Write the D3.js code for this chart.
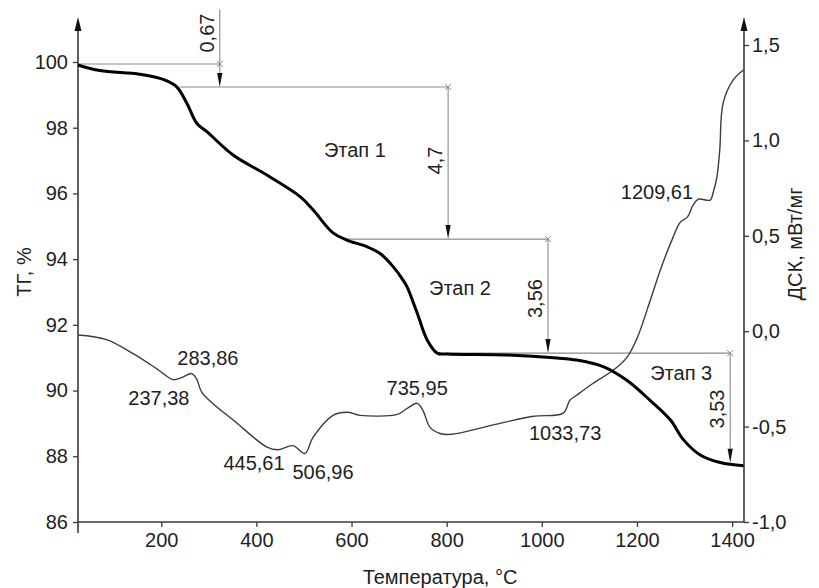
<!DOCTYPE html>
<html>
<head>
<meta charset="utf-8">
<script src="https://cdn.jsdelivr.net/npm/d3@7"></script>
<style>
  html, body { margin: 0; padding: 0; background: #fff; }
  svg { display: block; font-family: "Liberation Sans", Arial, sans-serif; }
</style>
</head>
<body>
<svg id="chart" width="819" height="588"></svg>
<script>
// ---- Data ----
const tgTemp = [25, 71, 155, 204, 232, 254, 275, 296, 351, 422, 492, 519, 561, 590, 632, 660, 687, 708, 717, 738, 759, 780, 801, 927, 1032, 1073, 1129, 1178, 1227, 1270, 1298, 1333, 1375, 1424];
const tgValue = [99.91, 99.74, 99.63, 99.47, 99.25, 98.74, 98.13, 97.88, 97.17, 96.56, 95.90, 95.50, 94.80, 94.58, 94.38, 94.17, 93.78, 93.37, 93.15, 92.36, 91.54, 91.14, 91.11, 91.08, 90.99, 90.93, 90.73, 90.32, 89.71, 89.11, 88.50, 88.04, 87.81, 87.71];

const dscTemp = [25, 85, 141, 190, 225, 243, 264, 274, 285, 309, 352, 422, 446, 477, 502, 519, 561, 591, 618, 696, 717, 738, 750, 765, 786, 807, 912, 982, 1045, 1059, 1073, 1108, 1150, 1179, 1201, 1228, 1249, 1276, 1291, 1306, 1318, 1329, 1354, 1360, 1368, 1374, 1381, 1402, 1424];
const dscValue = [-0.02, -0.044, -0.118, -0.196, -0.254, -0.243, -0.222, -0.249, -0.319, -0.380, -0.467, -0.607, -0.621, -0.600, -0.641, -0.557, -0.441, -0.425, -0.441, -0.436, -0.405, -0.378, -0.415, -0.504, -0.536, -0.541, -0.483, -0.446, -0.429, -0.362, -0.336, -0.273, -0.205, -0.137, -0.032, 0.162, 0.320, 0.493, 0.571, 0.598, 0.661, 0.692, 0.687, 0.724, 0.807, 0.949, 1.194, 1.316, 1.369];

const xTicks = [200, 400, 600, 800, 1000, 1200, 1400];
const tgTicks = [86, 88, 90, 92, 94, 96, 98, 100];
const dscTicks = [-1.0, -0.5, 0.0, 0.5, 1.0, 1.5];

// Peak labels on the DSC curve
const peakLabels = ["283,86", "237,38", "445,61", "506,96", "735,95", "1033,73", "1209,61"];
const peakLabelT = [298, 195, 395, 540, 738, 1049, 1242];
const peakLabelV = [-0.142, -0.352, -0.693, -0.740, -0.300, -0.536, 0.729];

// Stage labels on the TG scale
const stageLabels = ["Этап 1", "Этап 2", "Этап 3"];
const stageLabelT = [607, 828, 1293];
const stageLabelV = [97.32, 93.12, 90.54];

// Mass-loss dimension lines (TG levels)
const stepLevels = [99.94, 99.24, 94.61, 91.14, 87.80];
const stepLineStartT = [25, 239, 586, 800];
const stepMarkT = [323, 803, 1013, 1396];
const stepVertTop = [101.6, 99.24, 94.61, 91.14];
const lossLabels = ["0,67", "4,7", "3,56", "3,53"];
const lossLabelV = [100.88, 97.0, 92.8, 89.44];

// ---- Scales ----
const svg = d3.select("#chart");
const x = d3.scaleLinear().domain([25, 1425]).range([78, 744]);
const yL = d3.scaleLinear().domain([86, 100]).range([522, 62]);
const yR = d3.scaleLinear().domain([-1, 1.5]).range([522, 45]);

const axisColor = "#3a3a3a";
const textColor = "#1e1e1e";
const fmt = v => d3.format(".1f")(v).replace(".", ",").replace("−", "-");
const FONT = "Liberation Sans, Arial, sans-serif";

// ---- Axes ----
const gx = svg.append("g").attr("transform", "translate(0,522)")
  .call(d3.axisBottom(x).tickValues(xTicks).tickSize(5).tickSizeOuter(0).tickPadding(6).tickFormat(d3.format("d")));
gx.select(".domain").remove();
gx.selectAll(".tick line").attr("stroke", axisColor).attr("stroke-width", 1.3);
gx.selectAll(".tick text").attr("font-size", 20).attr("fill", textColor).attr("font-family", FONT);

const gl = svg.append("g").attr("transform", "translate(78,0)")
  .call(d3.axisLeft(yL).tickValues(tgTicks).tickSize(5).tickSizeOuter(0).tickPadding(5).tickFormat(d3.format("d")));
gl.select(".domain").remove();
gl.selectAll(".tick line").attr("stroke", axisColor).attr("stroke-width", 1.3);
gl.selectAll(".tick text").attr("font-size", 20).attr("fill", textColor).attr("font-family", FONT);

const gr = svg.append("g").attr("transform", "translate(744,0)")
  .call(d3.axisRight(yR).tickValues(dscTicks).tickSize(5).tickSizeOuter(0).tickPadding(3).tickFormat(fmt));
gr.select(".domain").remove();
gr.selectAll(".tick line").attr("stroke", axisColor).attr("stroke-width", 1.3);
gr.selectAll(".tick text").attr("font-size", 20).attr("fill", textColor).attr("font-family", FONT);

// axis lines
svg.append("line").attr("x1", 78).attr("x2", 744).attr("y1", 522).attr("y2", 522)
  .attr("stroke", axisColor).attr("stroke-width", 1.6);
svg.append("line").attr("x1", 78).attr("x2", 78).attr("y1", 533).attr("y2", 26)
  .attr("stroke", axisColor).attr("stroke-width", 1.6);
svg.append("line").attr("x1", 744).attr("x2", 744).attr("y1", 522).attr("y2", 26)
  .attr("stroke", axisColor).attr("stroke-width", 1.6);
[78, 744].forEach(ax => {
  svg.append("path").attr("d", `M${ax},17 L${ax - 3.5},31 L${ax + 3.5},31 Z`).attr("fill", "#111");
});

// axis titles
svg.append("text").attr("x", 440).attr("y", 577).attr("text-anchor", "middle")
  .attr("dominant-baseline", "central").attr("font-size", 20).attr("fill", textColor)
  .text("Температура, °С");
svg.append("text").attr("transform", "translate(24,272) rotate(-90)").attr("text-anchor", "middle")
  .attr("dominant-baseline", "central").attr("font-size", 20).attr("fill", textColor)
  .text("ТГ, %");
svg.append("text").attr("transform", "translate(795,244) rotate(-90)").attr("text-anchor", "middle")
  .attr("dominant-baseline", "central").attr("font-size", 20).attr("fill", textColor)
  .text("ДСК, мВт/мг");

// ---- Dimension lines ----
const dimColor = "#8a8a8a";
const gd = svg.append("g");
stepLineStartT.forEach((t0, i) => {
  const yy = yL(stepLevels[i]);
  gd.append("line").attr("x1", x(t0)).attr("x2", x(stepMarkT[i])).attr("y1", yy).attr("y2", yy)
    .attr("stroke", dimColor).attr("stroke-width", 1.1);
  const cx = x(stepMarkT[i]);
  gd.append("path").attr("d", `M${cx - 3},${yy - 3} L${cx + 3},${yy + 3} M${cx - 3},${yy + 3} L${cx + 3},${yy - 3}`)
    .attr("stroke", dimColor).attr("stroke-width", 1);
});
stepMarkT.forEach((t, i) => {
  const xx = x(t);
  const yTop = yL(stepVertTop[i]);
  const yTip = yL(stepLevels[i + 1]);
  gd.append("line").attr("x1", xx).attr("x2", xx).attr("y1", yTop).attr("y2", yTip - 10)
    .attr("stroke", dimColor).attr("stroke-width", 1.1);
  gd.append("path").attr("d", `M${xx},${yTip} L${xx - 2.6},${yTip - 14} L${xx + 2.6},${yTip - 14} Z`)
    .attr("fill", "#111");
  gd.append("text").attr("transform", `translate(${xx - 13},${yL(lossLabelV[i])}) rotate(-90)`)
    .attr("text-anchor", "middle").attr("dominant-baseline", "central")
    .attr("font-size", 20).attr("fill", textColor).text(lossLabels[i]);
});

// ---- Curves ----
const dscLine = d3.line().x((d, i) => x(dscTemp[i])).y((d, i) => yR(dscValue[i])).curve(d3.curveCatmullRom.alpha(0.5));
svg.append("path").datum(dscValue).attr("d", dscLine)
  .attr("fill", "none").attr("stroke", "#3c3c3c").attr("stroke-width", 1.4);

const tgLine = d3.line().x((d, i) => x(tgTemp[i])).y((d, i) => yL(tgValue[i])).curve(d3.curveCatmullRom.alpha(0.5));
svg.append("path").datum(tgValue).attr("d", tgLine)
  .attr("fill", "none").attr("stroke", "#000").attr("stroke-width", 3);

// ---- Labels ----
peakLabels.forEach((s, i) => {
  svg.append("text").attr("x", x(peakLabelT[i])).attr("y", yR(peakLabelV[i]))
    .attr("text-anchor", "middle").attr("dominant-baseline", "central")
    .attr("font-size", 20).attr("fill", textColor).text(s);
});
stageLabels.forEach((s, i) => {
  svg.append("text").attr("x", x(stageLabelT[i])).attr("y", yL(stageLabelV[i]))
    .attr("text-anchor", "middle").attr("dominant-baseline", "central")
    .attr("font-size", 20).attr("fill", textColor).text(s);
});
</script>
</body>
</html>
